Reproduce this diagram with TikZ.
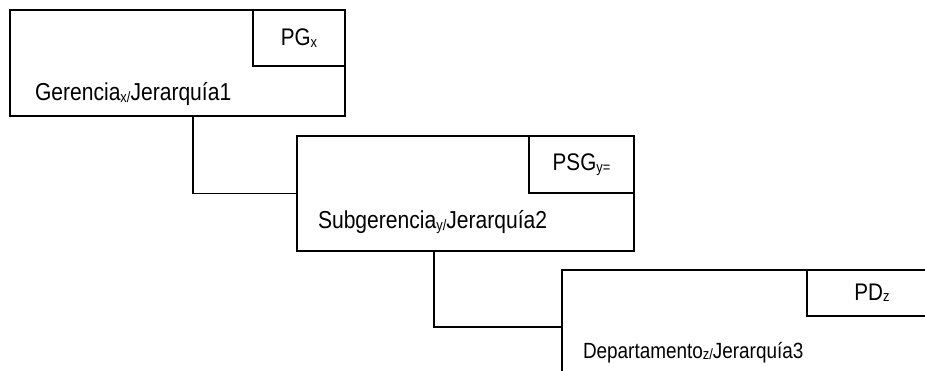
\documentclass[tikz,border=0pt]{standalone}
\usepackage{fontspec}
\setmainfont{Liberation Sans}
\usepackage{graphicx}
\newcommand\sbs[1]{\raisebox{-1.5pt}{\fontsize{15pt}{15pt}\selectfont #1}}
\tikzset{
  box/.style={draw, line width=1.3pt, inner sep=0pt, outer sep=0pt, anchor=north west},
  tag/.style={draw, line width=1.3pt, inner sep=0pt, outer sep=0pt, anchor=north east,
    font=\fontsize{24pt}{28pt}\selectfont},
  lbl/.style={inner sep=0pt, outer sep=0pt, anchor=base west, font=\fontsize{24.5pt}{29pt}\selectfont},
  lblsmall/.style={lbl, font=\fontsize{22pt}{26pt}\selectfont},
  conn/.style={line width=1.5pt},
}
\begin{document}
\begin{tikzpicture}[x=1pt,y=-1pt]
\useasboundingbox (0,0) rectangle (925,371);
\clip (0,0) rectangle (925,371);
% level 1
\node[box, minimum width=335pt, minimum height=106pt] (g1) at (10,10) {};
\node[tag, minimum width=92pt, minimum height=56pt] (pg) at (g1.north east) {\scalebox{0.86}[1]{PG\sbs{x}}};
\node[lbl] (t1) at (35,101) {\scalebox{0.86}[1]{Gerencia\sbs{x/}Jerarquía1}};
% level 2
\node[box, minimum width=337pt, minimum height=115pt] (g2) at (297,136) {};
\node[tag, minimum width=105pt, minimum height=57pt] (psg) at (g2.north east) {\scalebox{0.86}[1]{PSG\sbs{y=}}};
\node[lbl] (t2) at (318,229) {\scalebox{0.86}[1]{Subgerencia\sbs{y/}Jerarquía2}};
% level 3
\node[box, minimum width=400pt, minimum height=114pt] (g3) at (562,270) {};
\node[box, minimum width=150pt, minimum height=46pt] (pd) at (807,270) {};
\node[inner sep=0pt, anchor=base, font=\fontsize{24pt}{28pt}\selectfont] (tpd) at (872,300) {\scalebox{0.86}[1]{PD\sbs{z}}};
\node[lblsmall] (t3) at (583,358) {\scalebox{0.86}[1]{Departamento\sbs{z/}Jerarquía3}};
% connectors
\draw[line width=2.6pt] (g1.south west) ++(82,0) -- ++(103,0);
\draw[conn] (g1.south west) ++(183,0) |- (g2.west);
\draw[conn] (g2.south west) ++(137,0) |- (g3.west);
\end{tikzpicture}
\end{document}
